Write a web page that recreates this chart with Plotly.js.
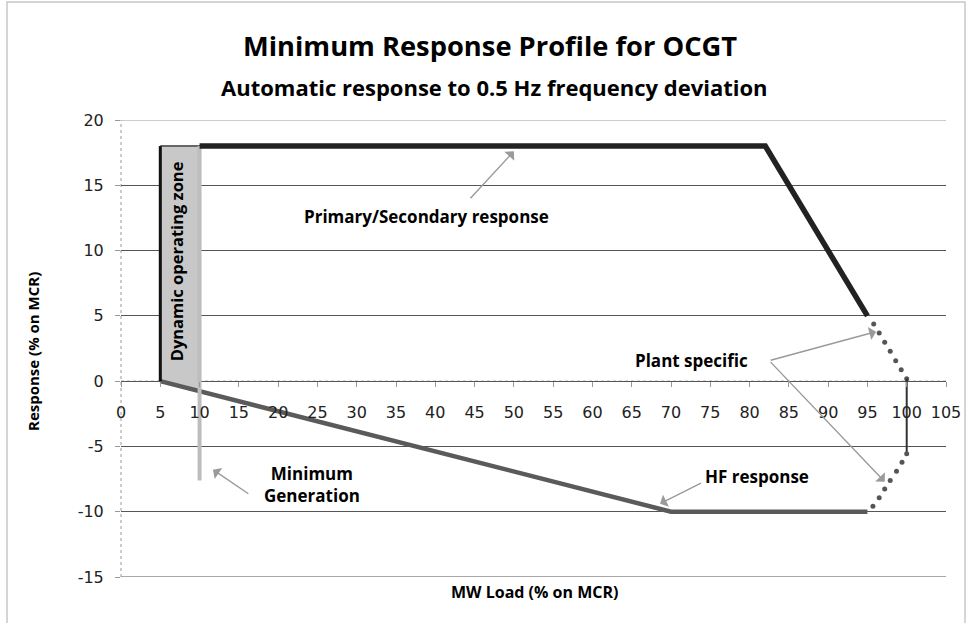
<!DOCTYPE html>
<html>
<head>
<meta charset="utf-8">
<script src="https://cdn.plot.ly/plotly-3.0.1.min.js"></script>
<style>html,body{margin:0;padding:0;background:#fff}#chart{width:975px;height:623px}</style>
</head>
<body>
<div id="chart"></div>
<script>
// ---- data ----
const xTicks = [0,5,10,15,20,25,30,35,40,45,50,55,60,65,70,75,80,85,90,95,100,105];
const yTicks = [-15,-10,-5,0,5,10,15,20];

const primaryX = [10, 82, 95];
const primaryY = [18, 18, 5];

const zoneX = [5, 10, 10, 5, 5];
const zoneY = [18, 18, -0.77, 0, 18];

const zoneEdgeX = [5, 5];
const zoneEdgeY = [0, 18];

const hfX = [5, 70, 95];
const hfY = [0, -10, -10];

const minGenX = [10, 10];
const minGenY = [18, -7.6];

const plantUpperX = [95.8, 96.5, 97.2, 97.9, 98.6, 99.3, 100.0];
const plantUpperY = [4.38, 3.69, 2.97, 2.28, 1.57, 0.88, 0.19];

const plantVertX = [100, 100];
const plantVertY = [0.19, -5.56];

const plantLowerX = [100.0, 99.4, 98.7, 97.9, 97.2, 96.5, 95.7];
const plantLowerY = [-5.56, -6.22, -6.91, -7.6, -8.26, -8.93, -9.59];

const FONT = '"Open Sans", Lato, sans-serif';
const labelFont = {family: FONT, size: 17, color: '#000', weight: 'bold'};
const GRID = '#555';

const traces = [
  {x: zoneX, y: zoneY, mode: 'lines', fill: 'toself', fillcolor: '#c8c8c8',
   line: {color: '#666', width: 2}, hoverinfo: 'skip'},
  {x: hfX, y: hfY, mode: 'lines', line: {color: '#5a5a5a', width: 4.5}, hoverinfo: 'skip'},
  {x: minGenX, y: minGenY, mode: 'lines', line: {color: '#bdbdbd', width: 4}, hoverinfo: 'skip'},
  {x: primaryX, y: primaryY, mode: 'lines', line: {color: '#222', width: 5.5}, hoverinfo: 'skip'},
  {x: zoneEdgeX, y: zoneEdgeY, mode: 'lines', line: {color: '#111', width: 3}, hoverinfo: 'skip'},
  {x: plantUpperX, y: plantUpperY, mode: 'markers', marker: {color: '#555', size: 5}, hoverinfo: 'skip'},
  {x: plantVertX, y: plantVertY, mode: 'lines', line: {color: '#333', width: 2}, hoverinfo: 'skip'},
  {x: plantLowerX, y: plantLowerY, mode: 'markers', marker: {color: '#555', size: 5}, hoverinfo: 'skip'}
];

function arrow(tx, ty, axv, ayv) {
  return {x: tx, y: ty, ax: axv, ay: ayv, xref: 'x', yref: 'y', axref: 'x', ayref: 'y',
    text: '', showarrow: true, arrowhead: 1, arrowsize: 1.6, arrowwidth: 1.4, arrowcolor: '#9a9a9a'};
}

const layout = {
  width: 975, height: 623,
  margin: {l: 121, r: 29, t: 120, b: 46},
  paper_bgcolor: '#fff', plot_bgcolor: '#fff',
  showlegend: false,
  font: {family: FONT, color: '#000'},
  xaxis: {
    range: [0, 105], tickvals: xTicks, ticktext: xTicks.map(String),
    anchor: 'free', position: 15/35, showgrid: false, zeroline: false, showline: false,
    ticks: 'outside', ticklen: 5, tickcolor: '#999', ticklabelstandoff: 12,
    tickfont: {family: '"DejaVu Sans", Verdana, sans-serif', size: 16, color: '#222'}
  },
  yaxis: {
    range: [-15, 20], tickvals: yTicks, ticktext: yTicks.map(String),
    showgrid: true, gridcolor: GRID, gridwidth: 1, zeroline: false, showline: false,
    ticks: 'outside', ticklen: 5, tickcolor: '#999', ticklabelstandoff: 8,
    tickfont: {family: '"DejaVu Sans", Verdana, sans-serif', size: 16, color: '#222'}
  },
  shapes: [
    // chart frame
    {type: 'rect', xref: 'paper', yref: 'paper', x0: (7-121)/825, x1: (965-121)/825, y0: -0.2, y1: (577-2)/457,
     line: {color: '#c8c8c8', width: 1.5}, fillcolor: 'rgba(0,0,0,0)', layer: 'below'},
    // edge gridlines
    {type: 'line', xref: 'paper', yref: 'y', x0: 0, x1: 1, y0: 20, y1: 20, line: {color: '#9a9a9a', width: 1}, layer: 'below'},
    {type: 'line', xref: 'paper', yref: 'y', x0: 0, x1: 1, y0: -15, y1: -15, line: {color: GRID, width: 1}, layer: 'below'},
    // cover zero gridline, dotted x axis line
    {type: 'line', xref: 'paper', yref: 'y', x0: 0, x1: 1, y0: 0, y1: 0, line: {color: '#fff', width: 2}, layer: 'below'},
    {type: 'line', xref: 'paper', yref: 'y', x0: 0, x1: 1, y0: 0, y1: 0, line: {color: '#999', width: 1, dash: 'dot'}, layer: 'below'},
    // dotted y axis line
    {type: 'line', xref: 'paper', yref: 'paper', x0: 0, x1: 0, y0: 0, y1: 1, line: {color: '#999', width: 1, dash: 'dot'}, layer: 'below'}
  ],
  annotations: [
    {xref: 'paper', yref: 'paper', x: (490-121)/825, y: (577-45)/457, text: '<b>Minimum Response Profile for OCGT</b>',
     showarrow: false, font: {family: FONT, size: 27.3, color: '#000'}, xanchor: 'center', yanchor: 'middle'},
    {xref: 'paper', yref: 'paper', x: (494-121)/825, y: (577-87)/457, text: '<b>Automatic response to 0.5 Hz frequency deviation</b>',
     showarrow: false, font: {family: FONT, size: 22, color: '#000'}, xanchor: 'center', yanchor: 'middle'},
    {xref: 'paper', yref: 'paper', x: (534-121)/825, y: (577-592)/457, text: '<b>MW Load (% on MCR)</b>',
     showarrow: false, font: {family: FONT, size: 16, color: '#000'}, xanchor: 'center', yanchor: 'middle'},
    {xref: 'paper', yref: 'paper', x: (33-121)/825, y: (577-352)/457, text: '<b>Response (% on MCR)</b>', textangle: -90,
     showarrow: false, font: {family: FONT, size: 15, color: '#000'}, xanchor: 'center', yanchor: 'middle'},
    {x: 38.9, y: 12.6, xref: 'x', yref: 'y', text: '<b>Primary/Secondary response</b>', showarrow: false, font: labelFont},
    {x: 7.1, y: 9.16, xref: 'x', yref: 'y', text: '<b>Dynamic operating zone</b>', showarrow: false, textangle: -90,
     font: {family: FONT, size: 16.5, color: '#000'}},
    {x: 72.6, y: 1.57, xref: 'x', yref: 'y', text: '<b>Plant specific</b>', showarrow: false, font: labelFont},
    {x: 81.0, y: -7.32, xref: 'x', yref: 'y', text: '<b>HF response</b>', showarrow: false, font: labelFont},
    {x: 24.3, y: -7.93, xref: 'x', yref: 'y', text: '<b>Minimum<br>Generation</b>', showarrow: false, font: labelFont},
    arrow(50.0, 17.6, 44.3, 13.9),
    arrow(96.1, 3.79, 82.5, 1.57),
    arrow(97.2, -7.70, 82.5, 1.57),
    arrow(68.6, -9.39, 74.0, -7.75),
    arrow(11.7, -6.78, 16.4, -8.70)
  ]
};

Plotly.newPlot('chart', traces, layout, {displayModeBar: false, staticPlot: true});
</script>
</body>
</html>
